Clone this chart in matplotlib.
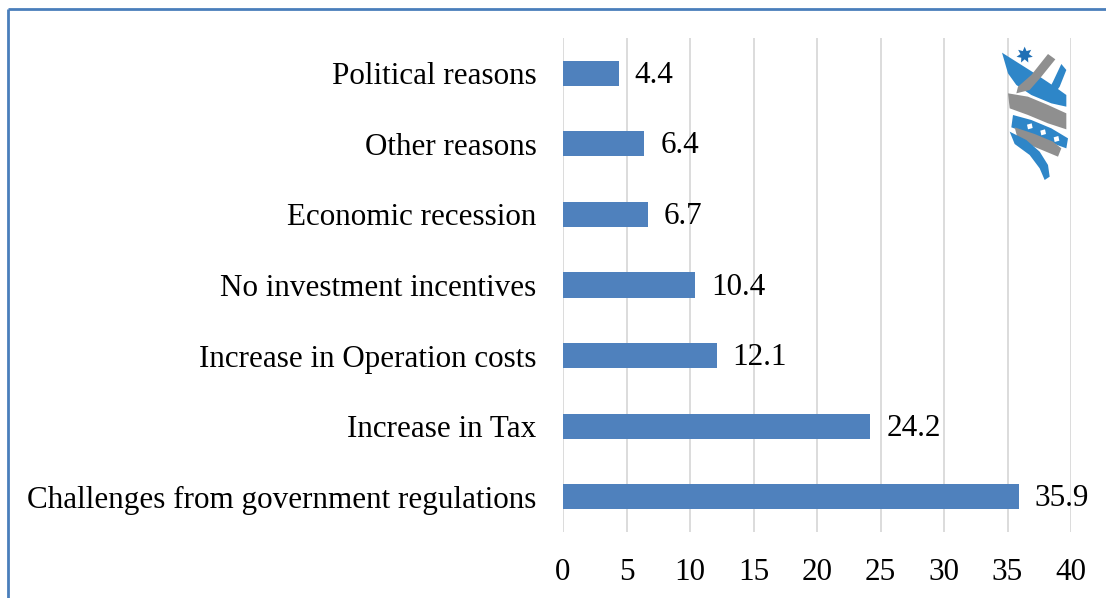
import numpy as np
import matplotlib
matplotlib.use("Agg")
import matplotlib.pyplot as plt
from matplotlib.patches import Polygon

# survey results: reasons for leaving / not investing (%)
reasons = [
    "Challenges from government regulations",
    "Increase in Tax",
    "Increase in Operation costs",
    "No investment incentives",
    "Economic recession",
    "Other reasons",
    "Political reasons",
]
shares = [35.9, 24.2, 12.1, 10.4, 6.7, 6.4, 4.4]
xticks = [0, 5, 10, 15, 20, 25, 30, 35, 40]

BLUE = "#4F81BD"
GRID = "#D9D9D9"
plt.rcParams["font.family"] = ["Liberation Serif", "DejaVu Serif"]
FS = 22.4

W, H = 1106, 598
fig = plt.figure(figsize=(W / 100, H / 100), dpi=100)
ax = fig.add_axes([563 / W, 1 - 532 / H, 508 / W, (532 - 38) / H])

ypos = np.arange(len(reasons))
ax.barh(ypos, shares, height=0.355, color=BLUE, zorder=3)
for y, v in zip(ypos, shares):
    ax.annotate(f"{v}", (v, y), xytext=(11.5, -1.5), textcoords="offset points",
                va="center", ha="left", fontsize=FS)

ax.set_xlim(0, 40)
ax.set_ylim(-0.5, len(reasons) - 0.5)
ax.set_xticks(xticks)
ax.set_xticklabels([str(t) for t in xticks])
ax.set_yticks(ypos)
ax.set_yticklabels(reasons)
ax.tick_params(axis="x", length=0, pad=18.5, labelsize=FS)
ax.tick_params(axis="y", length=0, pad=19, labelsize=FS)
ax.grid(axis="x", color=GRID, lw=1.3, zorder=0)
for s in ax.spines.values():
    s.set_visible(False)

# overlay in pixel coordinates for frame and logo
ov = fig.add_axes([0, 0, 1, 1], zorder=10)
ov.set_xlim(0, W)
ov.set_ylim(H, 0)
ov.axis("off")
ov.patch.set_alpha(0)
ov.plot([8, W], [9, 9], color="#4A7EBB", lw=2, solid_capstyle="butt")
ov.plot([8, 8], [9, H], color="#4A7EBB", lw=2, solid_capstyle="butt")


def logo_pts(pts):
    return [(998 + x / 3, 40 + y / 3) for x, y in pts]


LB = "#2E86C8"
LG = "#8F8F8F"
shapes = [
    (LB, [(12, 38), (50, 62), (110, 100), (170, 140), (205, 165), (205, 200),
          (160, 190), (100, 165), (55, 135), (30, 100)]),
    (LG, [(150, 42), (172, 58), (130, 110), (95, 150), (55, 160), (60, 140),
          (100, 105)]),
    (LB, [(190, 72), (205, 90), (185, 140), (160, 175), (140, 172), (165, 125)]),
    (LG, [(30, 160), (90, 170), (150, 195), (205, 220), (205, 268), (150, 250),
          (90, 225), (35, 205)]),
    (LB, [(45, 225), (100, 240), (160, 265), (210, 295), (205, 325), (150, 305),
          (90, 280), (40, 262)]),
    (LG, [(50, 262), (110, 282), (165, 305), (190, 325), (180, 350), (120, 325),
          (60, 300)]),
    (LB, [(35, 275), (85, 300), (125, 335), (150, 375), (155, 410), (140, 420),
          (125, 385), (95, 345), (50, 312)]),
]
for col, pts in shapes:
    ov.add_patch(Polygon(logo_pts(pts), closed=True, color=col, lw=0))

# small white gaps on the dashed ribbon
for cx, cy in [(95, 260), (135, 278), (175, 298)]:
    sq = [(cx - 8, cy - 6), (cx + 6, cy - 10), (cx + 9, cy + 4), (cx - 5, cy + 8)]
    ov.add_patch(Polygon(logo_pts(sq), closed=True, color="white", lw=0))

# seven-pointed star
ang = np.linspace(np.pi / 2, np.pi / 2 + 2 * np.pi, 15)[:-1]
rad = np.where(np.arange(14) % 2 == 0, 25, 13)
star = [(80 + r * np.cos(a), 45 - r * np.sin(a)) for r, a in zip(rad, ang)]
ov.add_patch(Polygon(logo_pts(star), closed=True, color="#1F6FB5", lw=0))

fig.savefig("out.png", dpi=100, facecolor="white")
